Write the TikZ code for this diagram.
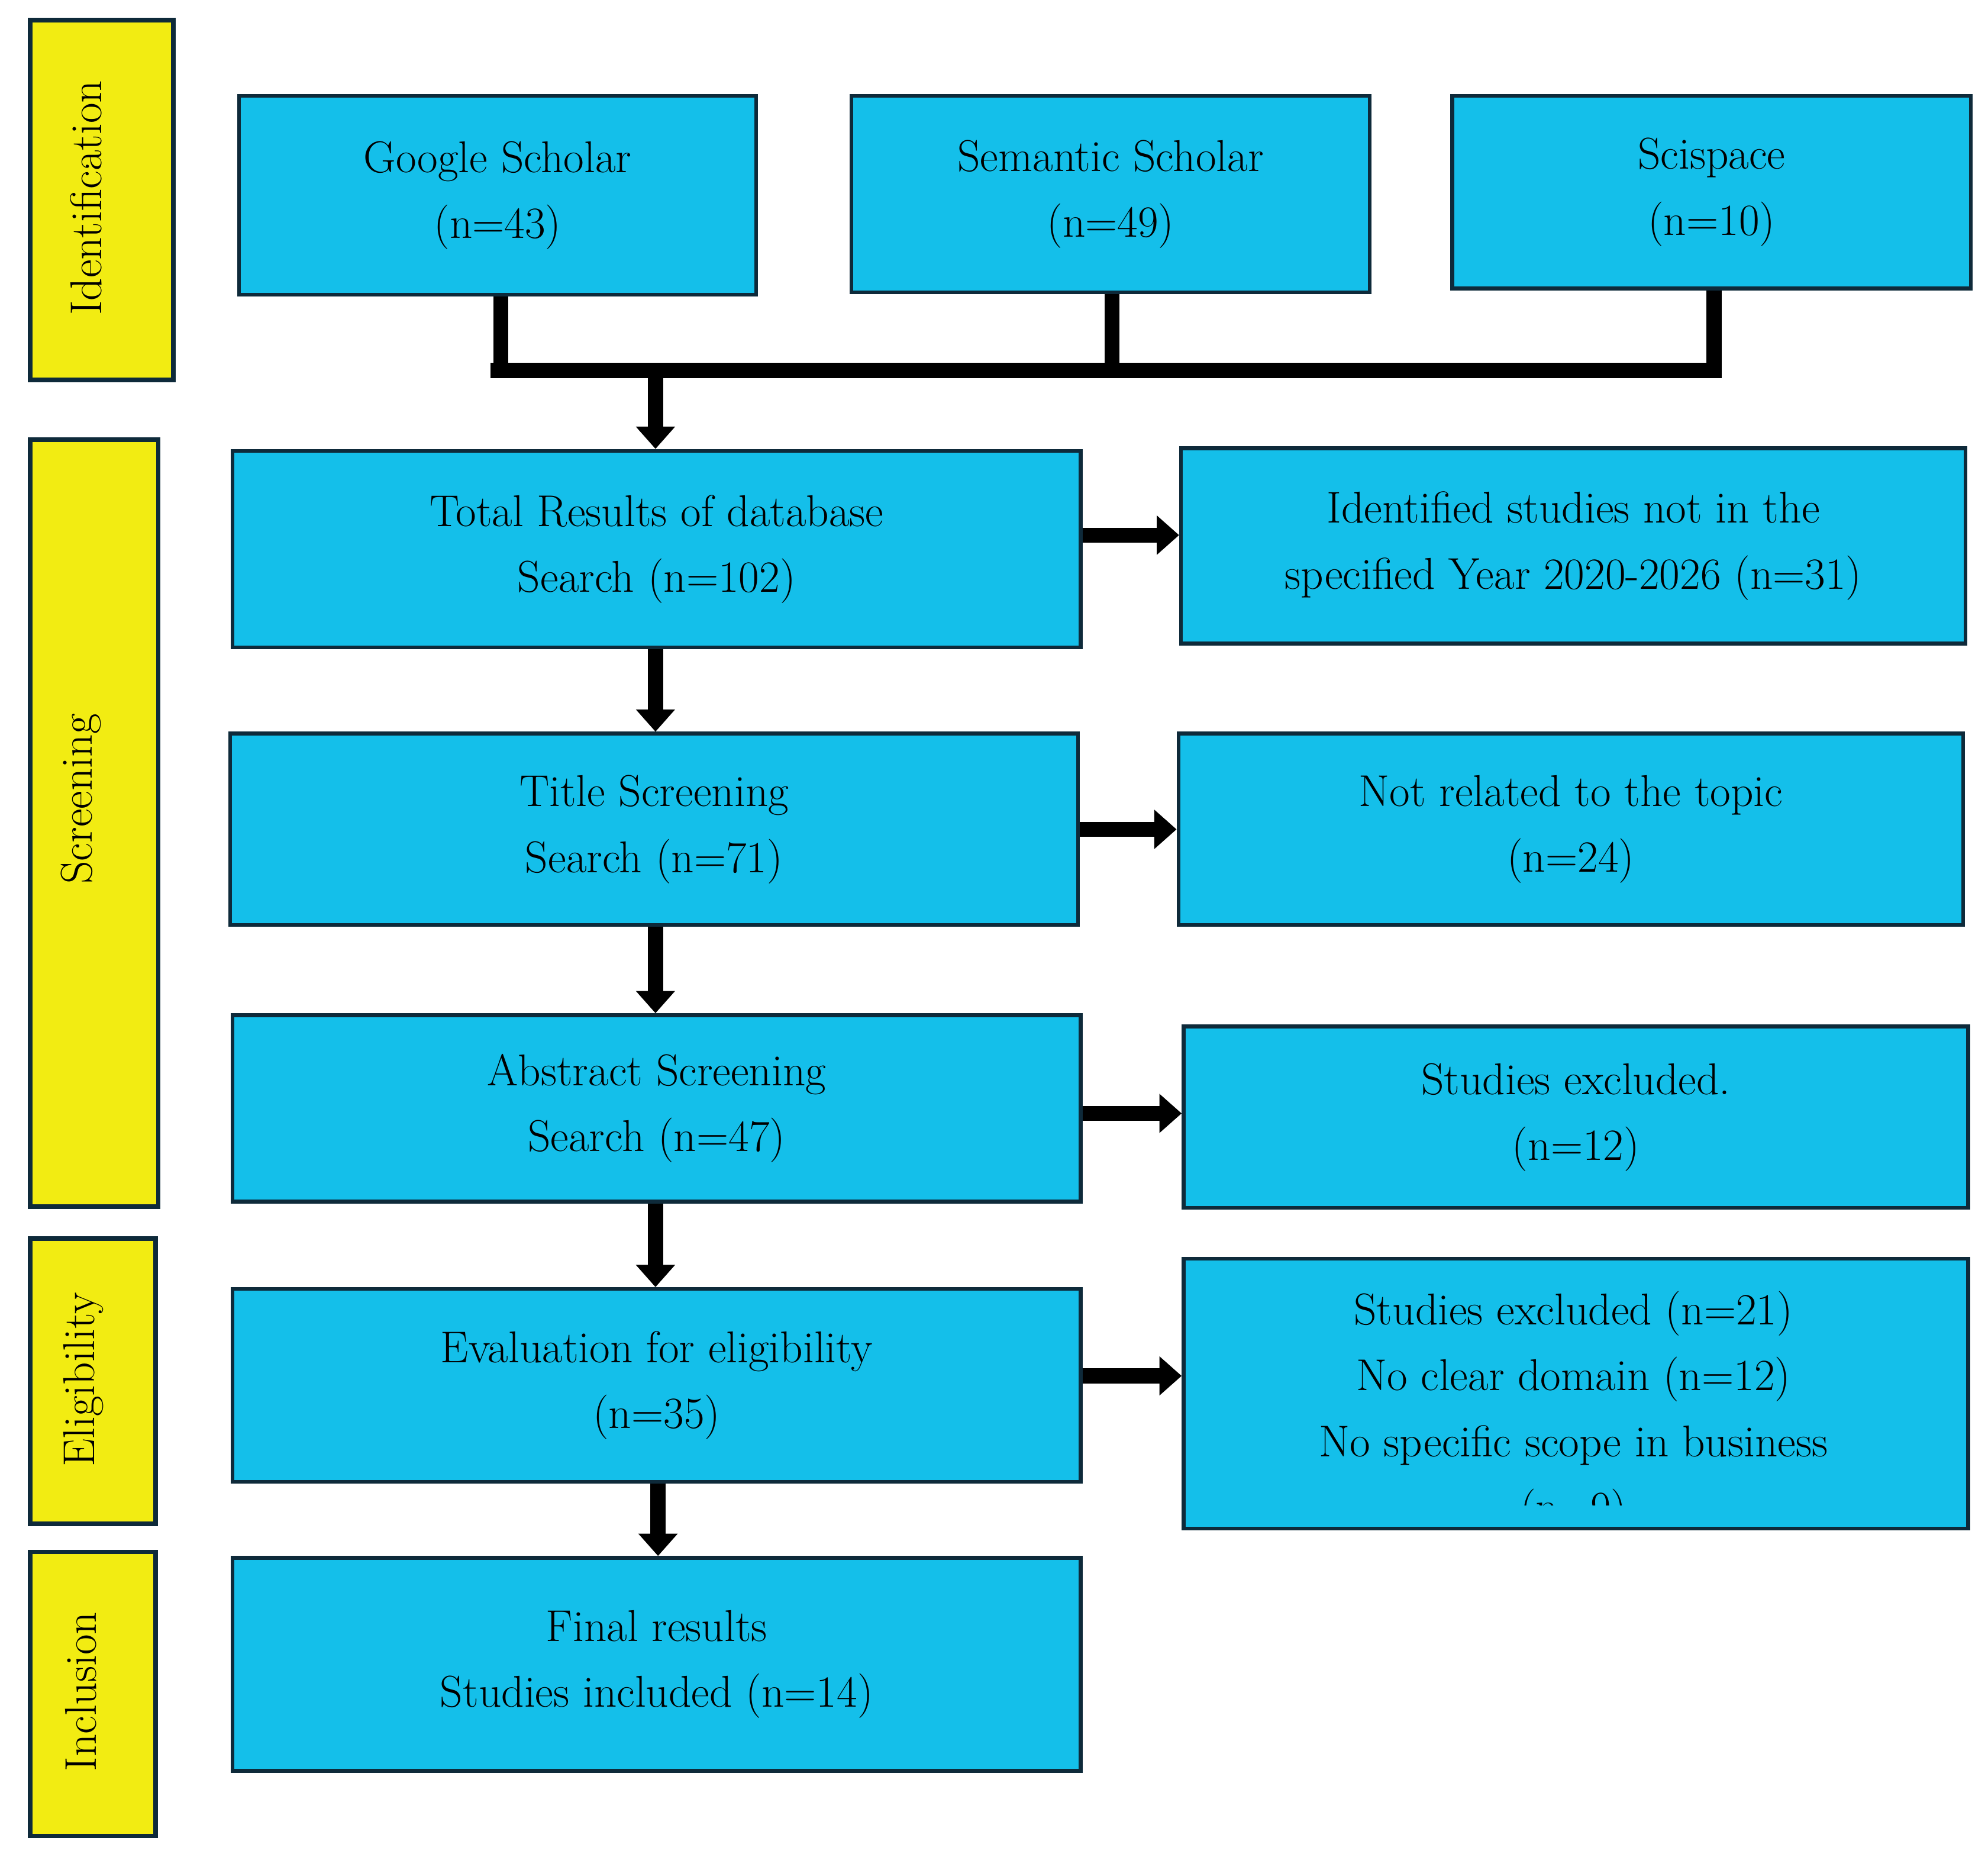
\documentclass[tikz,border=0pt]{standalone}
\usepackage{tikz}
\usetikzlibrary{arrows.meta}
\definecolor{boxcyan}{HTML}{14BFEA}
\definecolor{phaseyellow}{HTML}{F2EC12}
\definecolor{edgeblue}{HTML}{0E2A3A}
\tikzset{
	box/.style={draw=edgeblue, line width=1.7pt, fill=boxcyan, anchor=north west, align=center, inner sep=0pt, font=\fontsize{20}{29.6}\selectfont},
	phase/.style={draw=edgeblue, line width=2pt, fill=phaseyellow, anchor=north west, inner sep=0pt},
	phaselabel/.style={rotate=90, font=\fontsize{20}{24}\selectfont},
	flow/.style={line width=6.8pt, -{Triangle[length=10pt,width=17pt]}},
	bar/.style={line width=6.8pt}
}
\begin{document}
\begin{tikzpicture}[x=0.02cm, y=-0.02cm]
	\useasboundingbox (0,0) rectangle (1568,1464);
	
	% phases
	\node[phase, minimum width=2.26cm, minimum height=5.68cm] (ident) at (22,14) {};
	\node[phase, minimum width=2.02cm, minimum height=12.1cm] (screen) at (22,345) {};
	\node[phase, minimum width=1.98cm, minimum height=4.5cm] (elig) at (22,975) {};
	\node[phase, minimum width=1.98cm, minimum height=4.48cm] (incl) at (22,1222) {};
	\node[phaselabel] at (68,156) {Identification};
	\node[phaselabel] at (64,630) {Screening};
	\node[phaselabel] at (66,1088) {Eligibility};
	\node[phaselabel] at (64,1334) {Inclusion};
	
	% sources
	\node[box, minimum width=8.16cm, minimum height=3.14cm] (google) at (187,74) {Google Scholar\\(n=43)};
	\node[box, minimum width=8.18cm, minimum height=3.1cm] (semantic) at (670,74) {Semantic Scholar\\(n=49)};
	\node[box, minimum width=8.18cm, minimum height=3.04cm] (scispace) at (1144,74) {Scispace\\(n=10)};
	
	% main flow
	\node[box, minimum width=13.38cm, minimum height=3.1cm] (total) at (182,354) {Total Results of database\\Search (n=102)};
	\node[box, minimum width=13.38cm, minimum height=3.02cm] (title) at (180,577) {Title Screening\\Search (n=71)};
	\node[box, minimum width=13.38cm, minimum height=2.94cm] (abstract) at (182,799) {Abstract Screening\\Search (n=47)};
	\node[box, minimum width=13.38cm, minimum height=3.04cm] (eval) at (182,1015) {Evaluation for eligibility\\(n=35)};
	\node[box, minimum width=13.38cm, minimum height=3.36cm] (final) at (182,1227) {Final results\\Studies included (n=14)};
	
	% exclusions
	\node[box, minimum width=12.38cm, minimum height=3.08cm] (notyear) at (930,352) {Identified studies not in the\\specified Year 2020-2026 (n=31)};
	\node[box, minimum width=12.38cm, minimum height=3.02cm] (nottopic) at (928,577) {Not related to the topic\\(n=24)};
	\node[box, minimum width=12.38cm, minimum height=2.86cm] (excl) at (932,808) {Studies excluded.\\(n=12)};
	\node[box, minimum width=12.38cm, minimum height=4.26cm] (excltwo) at (932,991) {};
	\begin{scope}
		\clip (935,994) rectangle (1548,1187);
		\node[align=center, anchor=north, font=\fontsize{20}{29.6}\selectfont] at (1241,1012)
			{Studies excluded (n=21)\\No clear domain (n=12)\\No specific scope in business\\(n=9)};
	\end{scope}
	
	% connectors
	\coordinate (join) at (517,292);
	\draw[bar] (google.south -| 395,0) |- (join);
	\draw[bar] (semantic.south -| 877,0) -- (877,292);
	\draw[bar] (scispace.south -| 1352,0) |- (387,292);
	\draw[flow] (join) -- (total.north -| join);
	\draw[flow] (total.south -| join) -- (title.north -| join);
	\draw[flow] (title.south -| join) -- (abstract.north -| join);
	\draw[flow] (abstract.south -| join) -- (eval.north -| join);
	\draw[flow] (eval.south -| 519,0) -- (final.north -| 519,0);
	\draw[flow] (total.east |- 0,422) -- (notyear.west |- 0,422);
	\draw[flow] (title.east |- 0,654) -- (nottopic.west |- 0,654);
	\draw[flow] (abstract.east |- 0,878) -- (excl.west |- 0,878);
	\draw[flow] (eval.east |- 0,1085) -- (excltwo.west |- 0,1085);
\end{tikzpicture}
\end{document}
